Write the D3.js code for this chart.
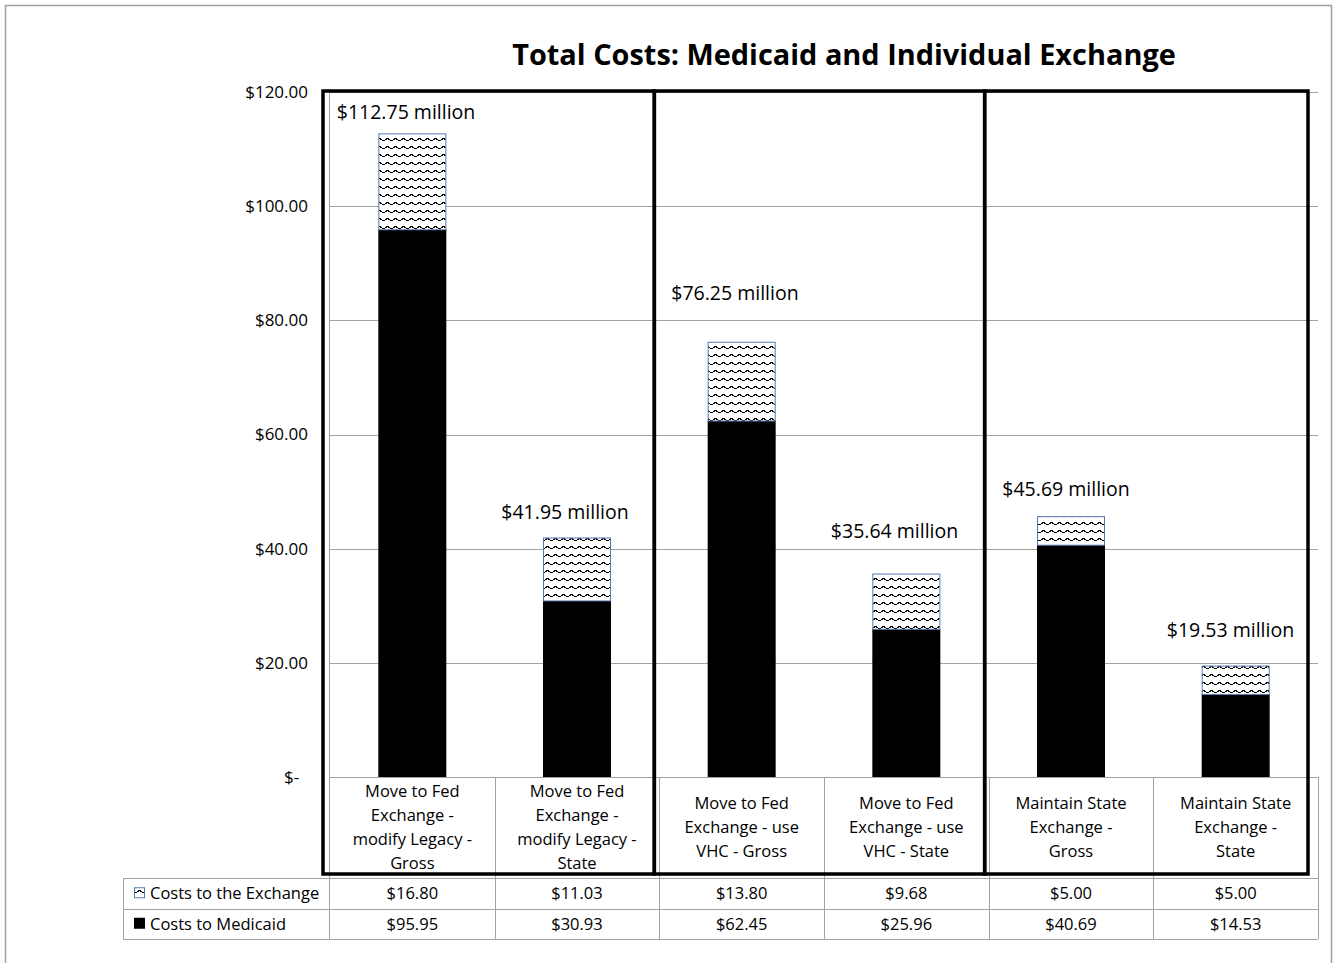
<!DOCTYPE html>
<html><head><meta charset="utf-8">
<script src="https://cdn.jsdelivr.net/npm/d3@7"></script>
<style>
body{margin:0;background:#fff}
svg{display:block}
text{font-family:"Open Sans",sans-serif;fill:#000}
</style>
</head><body>
<svg id="chart" width="1334" height="963"></svg>
<script>
// ---------- DATA ----------
const categories = [
  "Move to Fed\nExchange -\nmodify Legacy -\nGross",
  "Move to Fed\nExchange -\nmodify Legacy -\nState",
  "Move to Fed\nExchange - use\nVHC - Gross",
  "Move to Fed\nExchange - use\nVHC - State",
  "Maintain State\nExchange -\nGross",
  "Maintain State\nExchange -\nState"
];
const exchangeCosts = [16.80, 11.03, 13.80, 9.68, 5.00, 5.00];
const medicaidCosts = [95.95, 30.93, 62.45, 25.96, 40.69, 14.53];
const totalLabels = ["$112.75 million", "$41.95 million", "$76.25 million", "$35.64 million", "$45.69 million", "$19.53 million"];
const seriesNames = ["Costs to the Exchange", "Costs to Medicaid"];
const tickValues = [0, 20, 40, 60, 80, 100, 120];
const tickLabels = ["$-  ", "$20.00", "$40.00", "$60.00", "$80.00", "$100.00", "$120.00"];
const groups = [[0, 1], [2, 3], [4, 5]];
const title = "Total Costs: Medicaid and Individual Exchange";

// ---------- LAYOUT ----------
const svg = d3.select("#chart");
const plotL = 330, plotR = 1318, plotT = 92, plotB = 777;
const tableTop = 878, rowH = 30.5, legendL = 123;
const gridCol = "#a3a3a3";
const fmt = d3.format(".2f");

const x = d3.scaleBand().domain(d3.range(categories.length)).range([plotL, plotR])
  .paddingInner(0.587).paddingOuter(0.2935);
const step = x.step();
const xb = i => plotL + i * step;
const y = d3.scaleLinear().domain([0, 120]).range([plotB, plotT]);

// pattern (wave)
const defs = svg.append("defs");
const pat = defs.append("pattern").attr("id", "wave").attr("patternUnits", "userSpaceOnUse")
  .attr("width", 8).attr("height", 8);
pat.append("rect").attr("width", 8).attr("height", 8).attr("fill", "#fff");
const wavePix = [[2,2],[3,2],[4,2],[1,3],[5,3],[0,4],[6,4],[7,4],[2,3],[4,3]];
pat.selectAll("rect.p").data(wavePix).join("rect").attr("class", "p")
  .attr("x", d => d[0]).attr("y", d => d[1]).attr("width", 1).attr("height", 1)
  .attr("fill", "#000").attr("shape-rendering", "crispEdges");

// outer border
svg.append("rect").attr("x", 5.5).attr("y", 5.5).attr("width", 1326).attr("height", 970)
  .attr("fill", "none").attr("stroke", "#a0a0a0").attr("stroke-width", 1.5);

// title
const t = svg.append("text").attr("x", 844).attr("y", 65).attr("text-anchor", "middle")
  .attr("font-weight", "bold").attr("font-size", 27).text(title);
const tw = t.node().getComputedTextLength();
t.attr("font-size", 27 * 664 / tw);

// gridlines
svg.append("g").selectAll("line").data(tickValues).join("line")
  .attr("x1", plotL).attr("x2", plotR).attr("y1", d => Math.round(y(d)) + 0.5).attr("y2", d => Math.round(y(d)) + 0.5)
  .attr("stroke", gridCol).attr("stroke-width", 1);

// y axis via d3.axisLeft (labels only)
const yAxis = d3.axisLeft(y).tickValues(tickValues).tickFormat((d, i) => tickLabels[i]).tickSize(0).tickPadding(22);
const ga = svg.append("g").attr("transform", `translate(${plotL},0)`).call(yAxis);
ga.select(".domain").remove();
ga.selectAll("text").attr("font-size", 17).attr("font-family", '"Open Sans",sans-serif')
  .style("white-space", "pre").attr("fill", "#000");

// axis line
svg.append("line").attr("x1", plotL - 0.5).attr("x2", plotL - 0.5).attr("y1", plotT).attr("y2", tableTop + 2 * rowH)
  .attr("stroke", gridCol);

// bars
const bars = svg.append("g");
bars.selectAll("rect.med").data(medicaidCosts).join("rect").attr("class", "med")
  .attr("x", (d, i) => x(i)).attr("width", x.bandwidth())
  .attr("y", d => y(d)).attr("height", d => y(0) - y(d)).attr("fill", "#000");
bars.selectAll("rect.exc").data(exchangeCosts).join("rect").attr("class", "exc")
  .attr("x", (d, i) => x(i) + 0.5).attr("width", x.bandwidth() - 1)
  .attr("y", (d, i) => y(d + medicaidCosts[i]) + 0.5)
  .attr("height", (d, i) => y(medicaidCosts[i]) - y(d + medicaidCosts[i]))
  .attr("fill", "url(#wave)").attr("stroke", "#5678b0").attr("stroke-width", 1);

// total labels (manually positioned in original)
const lift = [21.4, 25.5, 48.7, 42.6, 27.2, 35.5];
const shiftX = [-6.3, -12, -6.7, -11.8, -5, -5.2];
svg.append("g").selectAll("text").data(totalLabels).join("text")
  .attr("x", (d, i) => x(i) + x.bandwidth() / 2 + shiftX[i])
  .attr("y", (d, i) => y(exchangeCosts[i] + medicaidCosts[i]) - lift[i])
  .attr("dy", "0.36em").attr("text-anchor", "middle").attr("font-size", 19.5).text(d => d);

// table grid
const tg = svg.append("g").attr("stroke", gridCol).attr("stroke-width", 1);
d3.range(1, categories.length + 1).forEach(i => {
  tg.append("line").attr("x1", Math.round(xb(i)) + 0.5).attr("x2", Math.round(xb(i)) + 0.5)
    .attr("y1", plotB).attr("y2", tableTop + 2 * rowH);
});
[tableTop, tableTop + rowH, tableTop + 2 * rowH].forEach(yy => {
  tg.append("line").attr("x1", legendL).attr("x2", plotR).attr("y1", Math.round(yy) + 0.5).attr("y2", Math.round(yy) + 0.5);
});
tg.append("line").attr("x1", legendL + 0.5).attr("x2", legendL + 0.5).attr("y1", tableTop).attr("y2", tableTop + 2 * rowH);

// category labels
const catMid = (plotB + tableTop) / 2;
const lineH = 24;
categories.forEach((c, i) => {
  const lines = c.split("\n");
  const tx = svg.append("text").attr("text-anchor", "middle").attr("font-size", 16.5);
  lines.forEach((l, j) => {
    tx.append("tspan").attr("x", xb(i) + step / 2)
      .attr("y", catMid + (j - (lines.length - 1) / 2) * lineH).attr("dy", "0.36em").text(l);
  });
});

// table values
[exchangeCosts, medicaidCosts].forEach((arr, r) => {
  const cy = tableTop + rowH * (r + 0.5);
  svg.append("g").selectAll("text").data(arr).join("text")
    .attr("x", (d, i) => xb(i) + step / 2).attr("y", cy).attr("dy", "0.36em")
    .attr("text-anchor", "middle").attr("font-size", 16.5).text(d => "$" + fmt(d));
  svg.append("text").attr("x", 150).attr("y", cy).attr("dy", "0.36em").attr("font-size", 16.5).text(seriesNames[r]);
});
// legend keys
svg.append("rect").attr("x", 134.5).attr("y", tableTop + rowH * 0.5 - 5.5).attr("width", 10).attr("height", 10)
  .attr("fill", "url(#wave)").attr("stroke", "#5678b0");
svg.append("rect").attr("x", 134).attr("y", tableTop + rowH * 1.5 - 6).attr("width", 11).attr("height", 11).attr("fill", "#000");

// group boxes
const edges = [xb(0) - 7, xb(2) - 5, xb(4) - 4, xb(6) - 10];
svg.append("g").selectAll("rect").data(groups).join("rect")
  .attr("x", (g, k) => edges[k]).attr("width", (g, k) => edges[k + 1] - edges[k])
  .attr("y", plotT - 1).attr("height", tableTop - 4 - (plotT - 1))
  .attr("fill", "none").attr("stroke", "#000").attr("stroke-width", 3.5);
</script>
</body></html>
